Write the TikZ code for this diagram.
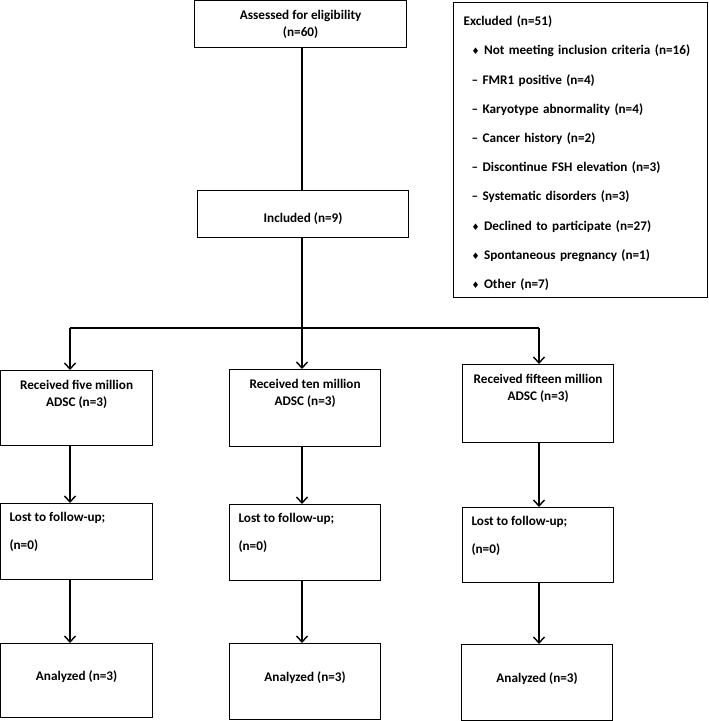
\documentclass[tikz,border=0pt]{standalone}
\usepackage{fontspec}
\setmainfont{Carlito}
\newfontfamily\symfont{DejaVu Sans}
\usetikzlibrary{arrows.meta}

\newcommand{\dmd}{{\symfont\fontsize{9}{9}\selectfont ♦}}
\newcommand{\dsh}{–}
\newcommand{\txtfont}{\bfseries\fontsize{13.2}{17}\selectfont}

\begin{document}
\begin{tikzpicture}[x=1pt, y=-1pt]
		\tikzset{box/.style={draw=black, line width=1.2pt, anchor=north west, inner sep=0pt},
			lbl/.style={anchor=north, align=center, yshift=-7pt, font=\txtfont},
			lblw/.style={anchor=north west, align=left, xshift=6pt, yshift=-6pt, font=\txtfont},
			lblc/.style={anchor=center, font=\txtfont},
			col/.style={box, minimum width=151pt},
			ln/.style={line width=1.4pt},
			arr/.style={ln, -{Straight Barb[length=6pt, width=11pt, line width=1.4pt]}}};

		\useasboundingbox (0,0) rectangle (709,721);

		\node[box, minimum width=212pt, minimum height=47pt, align=center, font=\txtfont] (assess) at (194,0) {Assessed for eligibility\\(n=60)};
		\node[box, minimum width=211pt, minimum height=47pt, label={[lblc, yshift=-4pt]center:Included (n=9)}] (incl) at (197,190) {};
		\node[box, minimum width=254pt, minimum height=295pt, inner xsep=10pt, text width=234pt, align=left, font=\bfseries\fontsize{13.2}{29.2}\selectfont] (excl) at (453,2) {\rule{0pt}{16pt}Excluded (n=51)\\
			\hspace*{8pt}\dmd\ Not meeting inclusion criteria (n=16)\\
			\hspace*{8pt}\dsh\ FMR1 positive (n=4)\\
			\hspace*{8pt}\dsh\ Karyotype abnormality (n=4)\\
			\hspace*{8pt}\dsh\ Cancer history (n=2)\\
			\hspace*{8pt}\dsh\ Discontinue FSH elevation (n=3)\\
			\hspace*{8pt}\dsh\ Systematic disorders (n=3)\\
			\hspace*{8pt}\dmd\ Declined to participate (n=27)\\
			\hspace*{8pt}\dmd\ Spontaneous pregnancy (n=1)\\
			\hspace*{8pt}\dmd\ Other (n=7)};

		\node[col, minimum width=152pt, minimum height=75pt, label={[lbl]north:Received five million\\ADSC (n=3)}] (rec1) at (0,370) {};
		\node[col, minimum height=77pt, label={[lbl]north:Received ten million\\ADSC (n=3)}] (rec2) at (229,369) {};
		\node[col, minimum height=78pt, label={[lbl]north:Received fifteen million\\ADSC (n=3)}] (rec3) at (462,364) {};

		\node[col, minimum width=152pt, minimum height=76pt, label={[lblw]north west:Lost to follow-up;\\[11pt](n=0)}] (lost1) at (0,503) {};
		\node[col, minimum height=76pt, label={[lblw]north west:Lost to follow-up;\\[11pt](n=0)}] (lost2) at (229,504) {};
		\node[col, minimum height=75pt, label={[lblw]north west:Lost to follow-up;\\[11pt](n=0)}] (lost3) at (462,507) {};

		\node[col, minimum width=152pt, minimum height=74pt, label={[lblc, yshift=4pt]center:Analyzed (n=3)}] (ana1) at (0,643) {};
		\node[col, minimum height=76pt, label={[lblc, yshift=4pt]center:Analyzed (n=3)}] (ana2) at (229,643) {};
		\node[col, minimum height=76pt, label={[lblc, yshift=4pt]center:Analyzed (n=3)}] (ana3) at (461,644) {};

		% column lines
		\coordinate (c1) at (70,328);
		\coordinate (c2) at (302,328);
		\coordinate (c3) at (539,328);

		\draw[ln] (assess.south -| c2) -- (incl.north -| c2);
		\draw[ln] (c1) -- (c3);
		\draw[arr] (incl.south -| c2) -- (rec2.north -| c2);
		\draw[arr] (c1) -- (rec1.north -| c1);
		\draw[arr] (c3) -- (rec3.north -| c3);

		\draw[arr] (rec1.south -| c1) -- (lost1.north -| c1);
		\draw[arr] (rec2.south -| c2) -- (lost2.north -| c2);
		\draw[arr] (rec3.south -| c3) -- (lost3.north -| c3);

		\draw[arr] (lost1.south -| c1) -- (ana1.north -| c1);
		\draw[arr] (lost2.south -| c2) -- (ana2.north -| c2);
		\draw[arr] (lost3.south -| c3) -- (ana3.north -| c3);
	\end{tikzpicture}
\end{document}
